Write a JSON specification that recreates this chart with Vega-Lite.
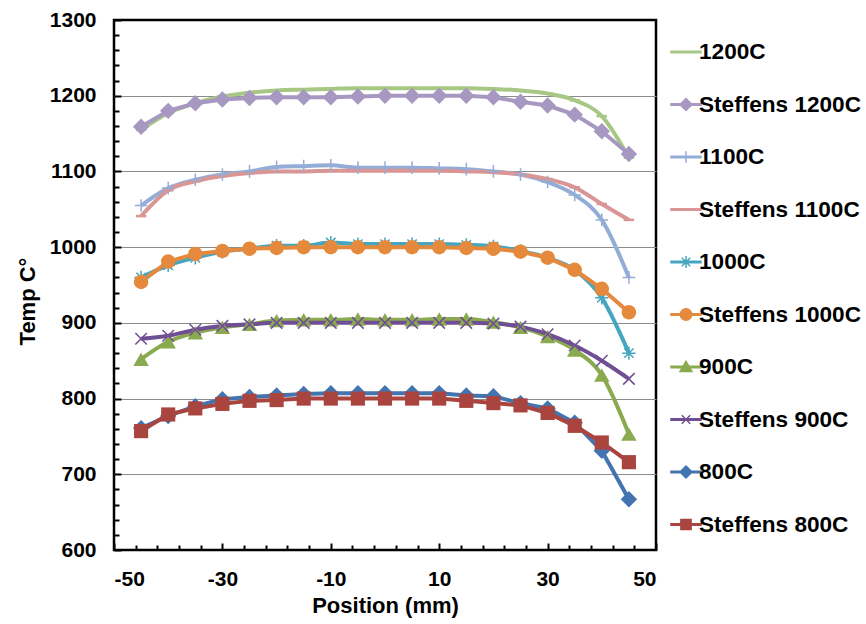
{
  "$schema": "https://vega.github.io/schema/vega-lite/v6.json",
  "width": 542,
  "height": 530,
  "autosize": {"type": "none"},
  "padding": {"left": 114, "top": 20, "right": 210, "bottom": 74},
  "background": "white",
  "config": {
    "view": {"stroke": "black", "strokeWidth": 2.5},
    "font": "Liberation Sans",
    "axis": {
      "labelFont": "Liberation Sans", "labelFontWeight": "bold", "labelFontSize": 21, "labelColor": "black",
      "titleFont": "Liberation Sans", "titleFontWeight": "bold", "titleFontSize": 22, "titleColor": "black",
      "domain": false, "tickColor": "black", "tickWidth": 2, "grid": false
    },
    "legend": {
      "orient": "right", "offset": -2, "padding": 16,
      "labelFont": "Liberation Sans", "labelFontSize": 22.6, "labelFontWeight": "bold", "labelColor": "black",
      "labelLimit": 300, "symbolSize": 900, "symbolStrokeWidth": 1.5, "rowPadding": 24.5, "labelOffset": -3
    }
  },
  "datasets": {
    "temps": [
      {"x": -45, "1200C": 1155, "Steffens 1200C": 1159, "1100C": 1055, "Steffens 1100C": 1041, "1000C": 960, "Steffens 1000C": 954, "900C": 852, "Steffens 900C": 879, "800C": 761, "Steffens 800C": 757},
      {"x": -40, "1200C": 1177, "Steffens 1200C": 1180, "1100C": 1078, "Steffens 1100C": 1075, "1000C": 976, "Steffens 1000C": 981, "900C": 875, "Steffens 900C": 883, "800C": 777, "Steffens 800C": 779},
      {"x": -35, "1200C": 1190, "Steffens 1200C": 1190, "1100C": 1089, "Steffens 1100C": 1087, "1000C": 986, "Steffens 1000C": 991, "900C": 887, "Steffens 900C": 891, "800C": 790, "Steffens 800C": 787},
      {"x": -30, "1200C": 1199, "Steffens 1200C": 1195, "1100C": 1096, "Steffens 1100C": 1094, "1000C": 994, "Steffens 1000C": 995, "900C": 894, "Steffens 900C": 896, "800C": 799, "Steffens 800C": 793},
      {"x": -25, "1200C": 1204, "Steffens 1200C": 1197, "1100C": 1100, "Steffens 1100C": 1098, "1000C": 998, "Steffens 1000C": 998, "900C": 898, "Steffens 900C": 898, "800C": 802, "Steffens 800C": 797},
      {"x": -20, "1200C": 1207, "Steffens 1200C": 1198, "1100C": 1106, "Steffens 1100C": 1100, "1000C": 1002, "Steffens 1000C": 999, "900C": 903, "Steffens 900C": 900, "800C": 804, "Steffens 800C": 798},
      {"x": -15, "1200C": 1208, "Steffens 1200C": 1198, "1100C": 1107, "Steffens 1100C": 1100, "1000C": 1002, "Steffens 1000C": 1000, "900C": 904, "Steffens 900C": 900, "800C": 806, "Steffens 800C": 800},
      {"x": -10, "1200C": 1209, "Steffens 1200C": 1198, "1100C": 1108, "Steffens 1100C": 1101, "1000C": 1006, "Steffens 1000C": 1000, "900C": 904, "Steffens 900C": 900, "800C": 807, "Steffens 800C": 800},
      {"x": -5, "1200C": 1210, "Steffens 1200C": 1199, "1100C": 1105, "Steffens 1100C": 1101, "1000C": 1004, "Steffens 1000C": 1000, "900C": 905, "Steffens 900C": 900, "800C": 807, "Steffens 800C": 800},
      {"x": 0, "1200C": 1210, "Steffens 1200C": 1200, "1100C": 1105, "Steffens 1100C": 1101, "1000C": 1004, "Steffens 1000C": 1000, "900C": 904, "Steffens 900C": 900, "800C": 807, "Steffens 800C": 800},
      {"x": 5, "1200C": 1210, "Steffens 1200C": 1200, "1100C": 1105, "Steffens 1100C": 1101, "1000C": 1004, "Steffens 1000C": 1000, "900C": 904, "Steffens 900C": 900, "800C": 807, "Steffens 800C": 800},
      {"x": 10, "1200C": 1210, "Steffens 1200C": 1200, "1100C": 1104, "Steffens 1100C": 1101, "1000C": 1004, "Steffens 1000C": 1000, "900C": 905, "Steffens 900C": 900, "800C": 807, "Steffens 800C": 800},
      {"x": 15, "1200C": 1210, "Steffens 1200C": 1200, "1100C": 1103, "Steffens 1100C": 1100, "1000C": 1003, "Steffens 1000C": 999, "900C": 905, "Steffens 900C": 900, "800C": 804, "Steffens 800C": 797},
      {"x": 20, "1200C": 1209, "Steffens 1200C": 1198, "1100C": 1100, "Steffens 1100C": 1099, "1000C": 1001, "Steffens 1000C": 998, "900C": 901, "Steffens 900C": 899, "800C": 803, "Steffens 800C": 794},
      {"x": 25, "1200C": 1207, "Steffens 1200C": 1192, "1100C": 1096, "Steffens 1100C": 1096, "1000C": 995, "Steffens 1000C": 994, "900C": 894, "Steffens 900C": 895, "800C": 794, "Steffens 800C": 791},
      {"x": 30, "1200C": 1203, "Steffens 1200C": 1187, "1100C": 1086, "Steffens 1100C": 1090, "1000C": 986, "Steffens 1000C": 986, "900C": 882, "Steffens 900C": 885, "800C": 787, "Steffens 800C": 781},
      {"x": 35, "1200C": 1194, "Steffens 1200C": 1175, "1100C": 1069, "Steffens 1100C": 1079, "1000C": 970, "Steffens 1000C": 970, "900C": 864, "Steffens 900C": 870, "800C": 768, "Steffens 800C": 764},
      {"x": 40, "1200C": 1173, "Steffens 1200C": 1153, "1100C": 1036, "Steffens 1100C": 1057, "1000C": 933, "Steffens 1000C": 945, "900C": 831, "Steffens 900C": 850, "800C": 731, "Steffens 800C": 742},
      {"x": 45, "1200C": 1118, "Steffens 1200C": 1123, "1100C": 960, "Steffens 1100C": 1036, "1000C": 860, "Steffens 1000C": 914, "900C": 753, "Steffens 900C": 826, "800C": 667, "Steffens 800C": 716}
    ]
  },
  "data": {"name": "temps"},
  "transform": [
    {"fold": ["1200C", "Steffens 1200C", "1100C", "Steffens 1100C", "1000C", "Steffens 1000C", "900C", "Steffens 900C", "800C", "Steffens 800C"], "as": ["series", "t"]}
  ],
  "encoding": {
    "x": {"field": "x", "type": "quantitative", "scale": {"domain": [-50, 50], "nice": false, "zero": false}},
    "y": {"field": "t", "type": "quantitative", "scale": {"domain": [600, 1300], "nice": false, "zero": false}},
    "color": {
      "field": "series", "type": "nominal",
      "legend": {"title": null, "encode": {"symbols": {"update": {"fill": {"scale": "color", "field": "value"}, "stroke": {"scale": "color", "field": "value"}, "opacity": {"value": 1}, "strokeWidth": {"value": 1.5}}}}},
      "scale": {
        "domain": ["1200C", "Steffens 1200C", "1100C", "Steffens 1100C", "1000C", "Steffens 1000C", "900C", "Steffens 900C", "800C", "Steffens 800C"],
        "range": ["#A7C785", "#A798C1", "#94ADD6", "#D99694", "#46A5BF", "#E58A3C", "#8AAA4F", "#704E93", "#4474B0", "#A9443F"]
      }
    }
  },
  "layer": [
    {
      "transform": [{"filter": {"field": "series", "oneOf": ["1200C", "1100C", "Steffens 1100C", "1000C", "900C", "Steffens 900C"]}}],
      "mark": {"type": "line", "interpolate": "monotone", "strokeWidth": 4},
      "encoding": {
        "x": {"field": "x", "type": "quantitative", "title": "Position (mm)",
          "axis": {"orient": "bottom", "values": [-50, -30, -10, 10, 30, 50], "labelExpr": "'' + datum.value", "tickSize": -7, "labelPadding": 25, "titlePadding": 6}},
        "y": {"field": "t", "type": "quantitative", "title": "Temp C°",
          "axis": {"orient": "left", "values": [600, 700, 800, 900, 1000, 1100, 1200, 1300], "labelExpr": "'' + datum.value", "tickSize": -7, "labelPadding": 25, "titlePadding": 10, "titleY": 281}}
      }
    },
    {
      "transform": [{"filter": {"field": "series", "oneOf": ["Steffens 1200C", "Steffens 1000C", "800C", "Steffens 800C"]}}],
      "mark": {"type": "line", "strokeWidth": 4},
      "encoding": {
        "x": {"field": "x", "type": "quantitative", "title": null,
          "axis": {"orient": "bottom", "values": [-46, -42, -38, -34, -26, -22, -18, -14, -6, -2, 2, 6, 14, 18, 22, 26, 34, 38, 42, 46], "tickSize": -5, "labels": false}},
        "y": {"field": "t", "type": "quantitative", "title": null,
          "axis": {"orient": "left", "values": [620, 640, 660, 680, 720, 740, 760, 780, 820, 840, 860, 880, 920, 940, 960, 980, 1020, 1040, 1060, 1080, 1120, 1140, 1160, 1180, 1220, 1240, 1260, 1280], "tickSize": -5, "labels": false}}
      }
    },
    {
      "transform": [{"filter": {"field": "series", "oneOf": ["1200C", "Steffens 1100C"]}}],
      "mark": {"type": "point", "shape": "M-1,0H1", "filled": false, "size": 110, "strokeWidth": 2.5, "opacity": 1},
      "encoding": {"x": {"field": "x", "type": "quantitative", "axis": null}, "y": {"field": "t", "type": "quantitative", "axis": null}}
    },
    {
      "transform": [{"filter": {"field": "series", "equal": "1100C"}}],
      "mark": {"type": "point", "shape": "M-1,0H1M0,-1V1", "filled": false, "size": 160, "strokeWidth": 1.5, "opacity": 1},
      "encoding": {"x": {"field": "x", "type": "quantitative", "axis": null}, "y": {"field": "t", "type": "quantitative", "axis": null}}
    },
    {
      "transform": [{"filter": {"field": "series", "equal": "1000C"}}],
      "mark": {"type": "point", "shape": "M0,-1V1M-0.7,-0.7L0.7,0.7M-0.7,0.7L0.7,-0.7M-1,0H1", "filled": false, "size": 180, "strokeWidth": 1.5, "opacity": 1},
      "encoding": {"x": {"field": "x", "type": "quantitative", "axis": null}, "y": {"field": "t", "type": "quantitative", "axis": null}}
    },
    {
      "transform": [{"filter": {"field": "series", "equal": "Steffens 1000C"}}],
      "mark": {"type": "point", "shape": "circle", "filled": true, "size": 210, "opacity": 1},
      "encoding": {"x": {"field": "x", "type": "quantitative", "axis": null}, "y": {"field": "t", "type": "quantitative", "axis": null}}
    },
    {
      "transform": [{"filter": {"field": "series", "equal": "900C"}}],
      "mark": {"type": "point", "shape": "triangle-up", "filled": true, "size": 240, "opacity": 1},
      "encoding": {"x": {"field": "x", "type": "quantitative", "axis": null}, "y": {"field": "t", "type": "quantitative", "axis": null}}
    },
    {
      "transform": [{"filter": {"field": "series", "equal": "Steffens 900C"}}],
      "mark": {"type": "point", "shape": "M-0.7,-0.7L0.7,0.7M-0.7,0.7L0.7,-0.7", "filled": false, "size": 270, "strokeWidth": 1.5, "opacity": 1},
      "encoding": {"x": {"field": "x", "type": "quantitative", "axis": null}, "y": {"field": "t", "type": "quantitative", "axis": null}}
    },
    {
      "transform": [{"filter": {"field": "series", "oneOf": ["Steffens 1200C", "800C"]}}],
      "mark": {"type": "point", "shape": "diamond", "filled": true, "size": 270, "opacity": 1},
      "encoding": {"x": {"field": "x", "type": "quantitative", "axis": null}, "y": {"field": "t", "type": "quantitative", "axis": null}}
    },
    {
      "transform": [{"filter": {"field": "series", "equal": "Steffens 800C"}}],
      "mark": {"type": "point", "shape": "square", "filled": true, "size": 200, "opacity": 1},
      "encoding": {"x": {"field": "x", "type": "quantitative", "axis": null}, "y": {"field": "t", "type": "quantitative", "axis": null}}
    },
    {
      "mark": {"type": "point", "filled": true, "opacity": 0, "size": 10},
      "encoding": {
        "x": {"field": "x", "type": "quantitative", "axis": null},
        "y": {"field": "t", "type": "quantitative", "title": null,
          "axis": {"orient": "left", "values": [700, 800, 900, 1000, 1100, 1200], "grid": true, "gridColor": "#8C8C8C", "gridWidth": 1.2, "ticks": false, "labels": false}},
        "shape": {"field": "series", "type": "nominal",
          "legend": {"title": null},
          "scale": {
            "domain": ["1200C", "Steffens 1200C", "1100C", "Steffens 1100C", "1000C", "Steffens 1000C", "900C", "Steffens 900C", "800C", "Steffens 800C"],
            "range": [
              "M-1,-0.05H1V0.05H-1Z",
              "M-1,-0.05H1V0.05H-1ZM0,-0.4L0.4,0L0,0.4L-0.4,0Z",
              "M-1,-0.05H1V0.05H-1ZM-0.38,0H0.38M0,-0.38V0.38",
              "M-1,-0.05H1V0.05H-1Z",
              "M-1,-0.05H1V0.05H-1ZM0,-0.4V0.4M-0.28,-0.28L0.28,0.28M-0.28,0.28L0.28,-0.28",
              "M-1,-0.05H1V0.05H-1ZM-0.38,0A0.38,0.38,0,1,1,0.38,0A0.38,0.38,0,1,1,-0.38,0Z",
              "M-1,-0.05H1V0.05H-1ZM0,-0.38L0.4,0.3L-0.4,0.3Z",
              "M-1,-0.05H1V0.05H-1ZM-0.28,-0.28L0.28,0.28M-0.28,0.28L0.28,-0.28",
              "M-1,-0.05H1V0.05H-1ZM0,-0.4L0.4,0L0,0.4L-0.4,0Z",
              "M-1,-0.05H1V0.05H-1ZM-0.34,-0.34H0.34V0.34H-0.34Z"
            ]
          }
        }
      }
    }
  ],
  "resolve": {"axis": {"x": "independent", "y": "independent"}}
}
